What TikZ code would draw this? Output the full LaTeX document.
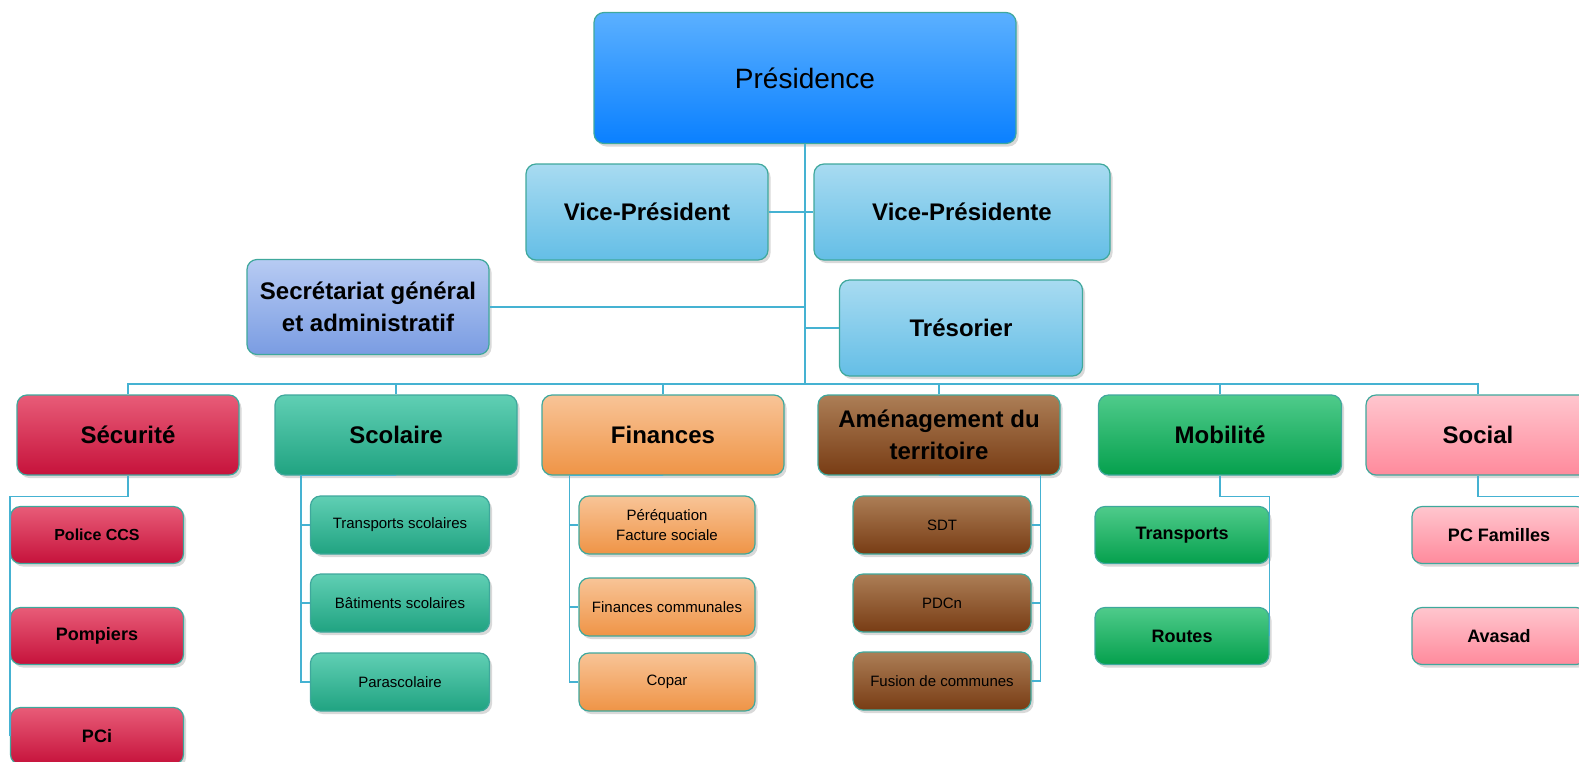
\documentclass[tikz,border=0pt]{standalone}
\usepackage{fontspec}
\setmainfont{Liberation Sans}
\usetikzlibrary{shadows}
\definecolor{bleulien}{HTML}{45B2D2}
\definecolor{bord}{HTML}{3FA89C}
\definecolor{presA}{HTML}{5BB0FF}\definecolor{presB}{HTML}{0A80FF}
\definecolor{vpA}{HTML}{A8DBF1}\definecolor{vpB}{HTML}{64BEE6}
\definecolor{secA}{HTML}{B7CBF3}\definecolor{secB}{HTML}{7A9CE2}
\definecolor{rougeA}{HTML}{E85C78}\definecolor{rougeB}{HTML}{C6123B}
\definecolor{tealA}{HTML}{60CFB4}\definecolor{tealB}{HTML}{20A381}
\definecolor{orA}{HTML}{F8C497}\definecolor{orB}{HTML}{EF9446}
\definecolor{brunA}{HTML}{AC7E56}\definecolor{brunB}{HTML}{783C14}
\definecolor{vertA}{HTML}{4FCB8B}\definecolor{vertB}{HTML}{05A04D}
\definecolor{roseA}{HTML}{FFC6CE}\definecolor{roseB}{HTML}{FF8A9C}
\tikzset{
	boite/.style 2 args={draw=bord, line width=1.2pt, rounded corners=10pt, top color=#1, bottom color=#2,
		drop shadow={shadow xshift=2.5pt, shadow yshift=-3pt, opacity=.3}, inner sep=2pt, align=center, text=black},
	grand/.style={font=\fontsize{24}{32}\selectfont\bfseries},
	moyen/.style={font=\fontsize{18}{22}\selectfont\bfseries, minimum height=57pt},
	petit/.style={font=\fontsize{15}{20}\selectfont, minimum height=58pt},
	trait/.style={draw=bleulien, line width=1.3pt}
}

\begin{document}
\begin{tikzpicture}[x=1pt,y=-1pt]
	\useasboundingbox (0,0) rectangle (1579,761);
	\node[boite={presA}{presB}, font=\fontsize{28}{32}\selectfont, minimum width=422pt, minimum height=131pt] (pres) at (805,78) {Présidence};
	\node[boite={vpA}{vpB}, grand, minimum width=242pt, minimum height=96pt] (vp) at (647,212) {Vice-Président};
	\node[boite={vpA}{vpB}, grand, minimum width=296pt, minimum height=96pt] (vpe) at (962,212) {Vice-Présidente};
	\node[boite={secA}{secB}, grand, minimum width=242pt, minimum height=95pt] (sec) at (368,307) {Secrétariat général\\et administratif};
	\node[boite={vpA}{vpB}, grand, minimum width=243pt, minimum height=96pt] (tres) at (961,328) {Trésorier};
	\coordinate (bus) at (805,384);

	\node[boite={rougeA}{rougeB}, grand, minimum width=222pt, minimum height=80pt] (secu) at (128,435) {Sécurité};
	\node[boite={tealA}{tealB}, grand, minimum width=242pt, minimum height=80pt] (scol) at (396,435) {Scolaire};
	\node[boite={orA}{orB}, grand, minimum width=242pt, minimum height=80pt] (fin) at (663,435) {Finances};
	\node[boite={brunA}{brunB}, grand, minimum width=242pt, minimum height=80pt] (amen) at (939,435) {Aménagement du\\territoire};
	\node[boite={vertA}{vertB}, grand, minimum width=243pt, minimum height=80pt] (mob) at (1220,435) {Mobilité};
	\node[boite={roseA}{roseB}, grand, minimum width=224pt, minimum height=80pt] (soc) at (1478,435) {Social};

	\node[boite={rougeA}{rougeB}, moyen, font=\fontsize{16}{20}\selectfont\bfseries, minimum width=173pt] (pol) at (97,535) {Police CCS};
	\node[boite={rougeA}{rougeB}, moyen, minimum width=173pt] (pomp) at (97,636) {Pompiers};
	\node[boite={rougeA}{rougeB}, moyen, minimum width=173pt] (pci) at (97,736) {PCi};

	\node[boite={tealA}{tealB}, petit, minimum width=179pt] (tsco) at (400,525) {Transports scolaires};
	\node[boite={tealA}{tealB}, petit, minimum width=179pt] (bats) at (400,603) {Bâtiments scolaires};
	\node[boite={tealA}{tealB}, petit, minimum width=179pt] (para) at (400,682) {Parascolaire};

	\node[boite={orA}{orB}, petit, minimum width=176pt] (pere) at (667,525) {Péréquation\\Facture sociale};
	\node[boite={orA}{orB}, petit, minimum width=176pt] (fcom) at (667,607) {Finances communales};
	\node[boite={orA}{orB}, petit, minimum width=176pt] (copar) at (667,682) {Copar};

	\node[boite={brunA}{brunB}, petit, minimum width=178pt] (sdt) at (942,525) {SDT};
	\node[boite={brunA}{brunB}, petit, minimum width=178pt] (pdcn) at (942,603) {PDCn};
	\node[boite={brunA}{brunB}, petit, minimum width=178pt] (fus) at (942,681) {Fusion de communes};

	\node[boite={vertA}{vertB}, moyen, minimum width=174pt] (trans) at (1182,535) {Transports};
	\node[boite={vertA}{vertB}, moyen, minimum width=174pt] (rout) at (1182,636) {Routes};

	\node[boite={roseA}{roseB}, moyen, minimum width=174pt] (pcf) at (1499,535) {PC Familles};
	\node[boite={roseA}{roseB}, moyen, minimum width=174pt] (avas) at (1499,636) {Avasad};

	\draw[trait] (pres.south) -- (bus);
	\draw[trait] (vp.east) -- (vpe.west);
	\draw[trait] (sec.east) -- (sec.east -| bus);
	\draw[trait] (tres.west) -- (tres.west -| bus);
	\draw[trait] (secu.north) |- (bus) -| (soc.north);
	\foreach \n in {scol,fin,amen,mob}
		\draw[trait] (\n.north) -- (\n.north |- bus);
	\draw[trait] (secu.south) -- ++(0,21) -| (pci.west);
	\draw[trait] (mob.south) -- ++(0,21) -| (rout.east);
	\draw[trait] (soc.south) -- ++(0,21) -| (avas.east);
	\foreach \n in {tsco,bats,para}
		\draw[trait] (scol.south) -| ([xshift=-9pt]\n.west) -- (\n.west);
	\foreach \n in {pere,fcom,copar}
		\draw[trait] (fin.south) -| ([xshift=-9pt]\n.west) -- (\n.west);
	\foreach \n in {sdt,pdcn,fus}
		\draw[trait] (amen.south) -| ([xshift=9pt]\n.east) -- (\n.east);
\end{tikzpicture}
\end{document}
